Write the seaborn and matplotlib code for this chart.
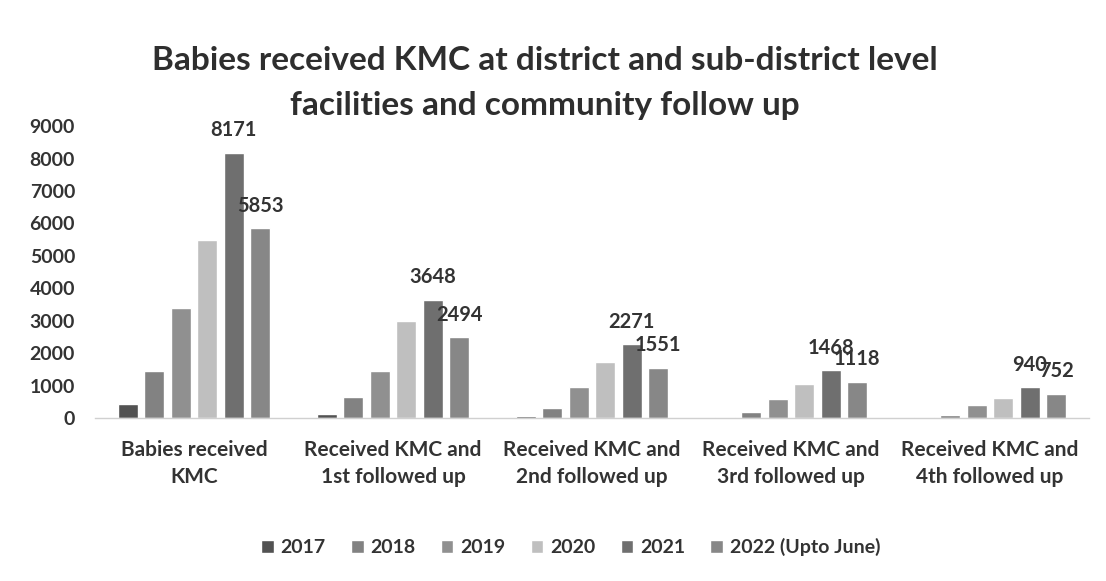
import numpy as np
import pandas as pd
import seaborn as sns
import matplotlib.pyplot as plt

categories = [
    "Babies received\nKMC",
    "Received KMC and\n1st followed up",
    "Received KMC and\n2nd followed up",
    "Received KMC and\n3rd followed up",
    "Received KMC and\n4th followed up",
]
years = ["2017", "2018", "2019", "2020", "2021", "2022 (Upto June)"]

v2017 = [420, 130, 60, 25, 15]
v2018 = [1450, 640, 300, 180, 100]
v2019 = [3400, 1450, 950, 600, 400]
v2020 = [5500, 3000, 1720, 1060, 620]
v2021 = [8171, 3648, 2271, 1468, 940]
v2022 = [5853, 2494, 1551, 1118, 752]

colors = ["#525252", "#828282", "#909090", "#bfbfbf", "#6f6f6f", "#878787"]

series = [v2017, v2018, v2019, v2020, v2021, v2022]
df = pd.DataFrame(
    [(c, y, vals[i]) for y, vals in zip(years, series) for i, c in enumerate(categories)],
    columns=["category", "year", "value"],
)

sns.set_theme(style="white")
plt.rcParams["font.family"] = ["Lato", "DejaVu Sans"]

text_color = "#333333"
fig = plt.figure(figsize=(11.06, 5.81), dpi=100)
ax = fig.add_axes([0.0855, 0.2806, 0.8995, 0.5024])

sns.barplot(
    data=df, x="category", y="value", hue="year", order=categories,
    hue_order=years, palette=colors, width=0.8, gap=0.25,
    saturation=1, ax=ax, legend=True,
)

ax.set_ylim(0, 9000)
ax.set_yticks(np.arange(0, 9001, 1000))
ax.set_xlim(-0.5, len(categories) - 0.5)
ax.set_xlabel("")
ax.set_ylabel("")
for s in ["top", "right", "left"]:
    ax.spines[s].set_visible(False)
ax.spines["bottom"].set_color("#d0d0d0")
ax.spines["bottom"].set_linewidth(1)
ax.tick_params(axis="x", length=0, labelsize=15, labelcolor=text_color, pad=16)
ax.tick_params(axis="y", length=0, labelsize=14, labelcolor=text_color, pad=14)
for lab in ax.get_xticklabels():
    lab.set_fontweight("bold")
    lab.set_linespacing(1.45)
for lab in ax.get_yticklabels():
    lab.set_fontweight("bold")

# value labels only on the two most recent years
for idx in (4, 5):
    ax.bar_label(ax.containers[idx], fmt="%d", padding=9,
                 fontsize=14.5, fontweight="bold", color=text_color)

handles, labels = ax.get_legend_handles_labels()
ax.legend_.remove()
leg = fig.legend(handles, labels, loc="center", bbox_to_anchor=(0.516, 0.058),
                 ncol=6, frameon=False, handlelength=0.65,
                 handleheight=0.65, handletextpad=0.35, columnspacing=1.3,
                 prop={"weight": "bold", "size": 14})
for t in leg.get_texts():
    t.set_color(text_color)

fig.suptitle("Babies received KMC at district and sub-district level\n"
             "facilities and community follow up",
             x=0.493, y=0.92, fontsize=24, fontweight="bold",
             color="#2e2e2e", linespacing=1.65)

fig.savefig("out.png", dpi=100, facecolor="white")
